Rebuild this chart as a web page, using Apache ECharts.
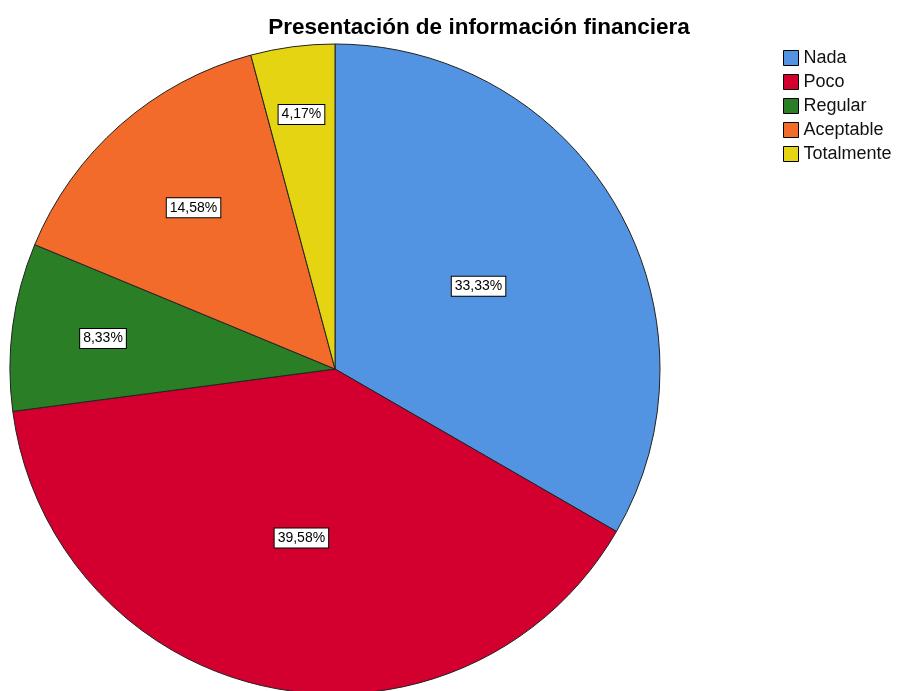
<!DOCTYPE html>
<html>
<head>
<meta charset="UTF-8">
<title>Presentación de información financiera</title>
<script src="https://cdn.jsdelivr.net/npm/echarts@6/dist/echarts.min.js"></script>
<style>
	html, body { margin: 0; padding: 0; background: #fff; }
	#chart { width: 897px; height: 691px; }
</style>
</head>
<body>
<div id="chart"></div>
<script type="text/javascript">
	// datos
	var categories = ['Nada', 'Poco', 'Regular', 'Aceptable', 'Totalmente'];
	var percents = [33.33, 39.58, 8.33, 14.58, 4.17];
	var colors = ['#5294E2', '#D3002F', '#2A7F26', '#F26B2A', '#E4D412'];

	// distancia de cada etiqueta al centro (fraccion del radio)
	var labelRadius = [0.51, 0.53, 0.72, 0.66, 0.79];
	var cx = 335, cy = 369, R = 325;

	var data = [];
	for (var i = 0; i < categories.length; i++) {
		data.push({ name: categories[i], value: percents[i], itemStyle: { color: colors[i] } });
	}

	var myChart = echarts.init(document.getElementById('chart'));
	var option = {
		backgroundColor: '#fff',
		animation: false,
		title: {
			text: 'Presentación de información financiera',
			left: 474,
			top: 11,
			textAlign: 'center',
			textStyle: { fontFamily: 'Liberation Sans, Arial', fontSize: 22.5, fontWeight: 'bold', color: '#000' }
		},
		legend: {
			orient: 'vertical',
			left: 783,
			top: 49,
			padding: 0,
			itemWidth: 15,
			itemHeight: 15,
			itemGap: 6,
			icon: 'rect',
			selectedMode: false,
			itemStyle: { borderColor: '#000', borderWidth: 1 },
			textStyle: { fontFamily: 'Liberation Sans, Arial', fontSize: 18, color: '#111', padding: [0, 0, 0, 0] },
			data: categories
		},
		series: [{
			type: 'pie',
			center: [cx, cy],
			radius: R,
			startAngle: 90,
			clockwise: true,
			silent: true,
			itemStyle: { borderColor: '#222', borderWidth: 1 },
			label: {
				show: true,
				position: 'inside',
				formatter: function (p) { return p.value.toFixed(2).replace('.', ',') + '%'; },
				fontFamily: 'Liberation Sans, Arial',
				fontSize: 14,
				color: '#000',
				backgroundColor: '#fff',
				borderColor: '#000',
				borderWidth: 1,
				padding: [3, 3, 2, 3]
			},
			labelLine: { show: false },
			labelLayout: function (params) {
				var r = params.labelRect;
				var lx = r.x + r.width / 2, ly = r.y + r.height / 2;
				var dx = lx - cx, dy = ly - cy;
				var d = Math.sqrt(dx * dx + dy * dy) || 1;
				var k = labelRadius[params.dataIndex] * R / d;
				return { x: cx + dx * k, y: cy + dy * k };
			},
			data: data
		}]
	};
	myChart.setOption(option);
</script>
</body>
</html>
